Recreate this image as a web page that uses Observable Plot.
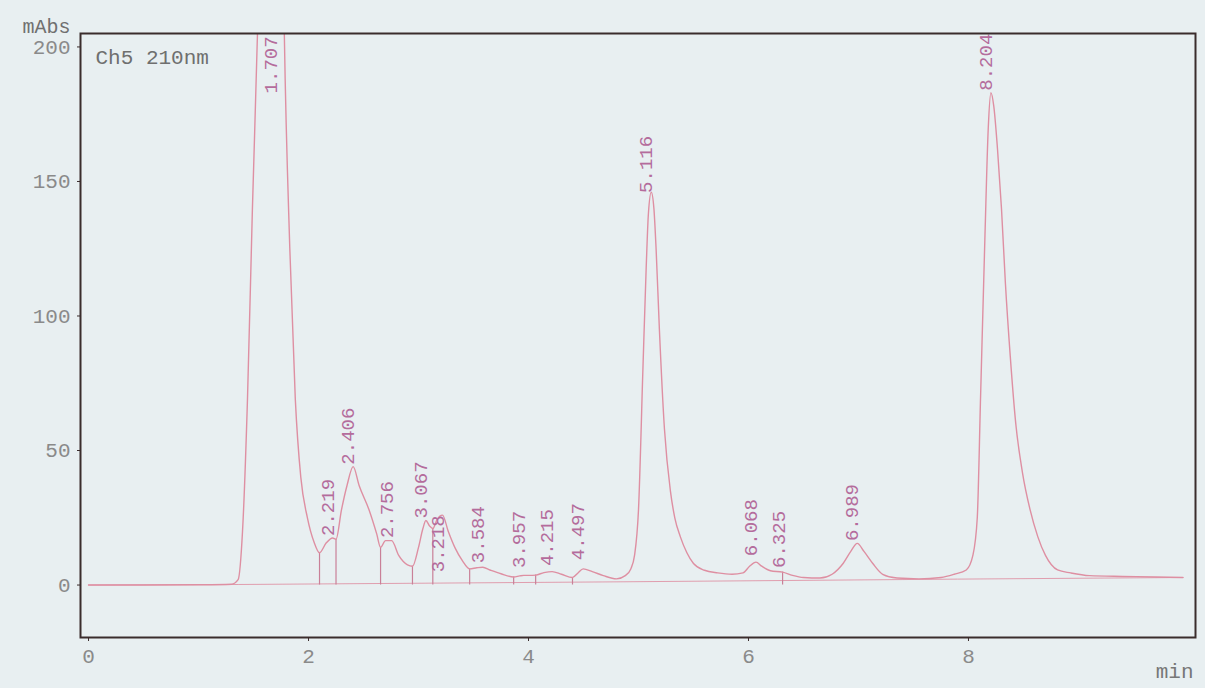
<!DOCTYPE html>
<html>
<head>
<meta charset="utf-8">
<script src="https://cdn.jsdelivr.net/npm/d3@7"></script>
<script src="https://cdn.jsdelivr.net/npm/@observablehq/plot@0.6"></script>
<style>
  html, body { margin: 0; padding: 0; background: #e8eff1; }
  #chart { width: 1205px; height: 688px; }
</style>
</head>
<body>
<div id="chart"></div>
<script>
// Chromatogram trace (retention time in min, absorbance in mAbs)
const traceTime = [0, 0.5, 1.0, 1.30, 1.36, 1.40, 1.445, 1.49, 1.536, 1.60, 1.707, 1.74, 1.78, 1.83, 1.88, 1.93, 1.99, 2.05, 2.10, 2.16, 2.219, 2.25, 2.30, 2.35, 2.406, 2.46, 2.55, 2.62, 2.655, 2.70, 2.756, 2.82, 2.90, 2.945, 3.00, 3.04, 3.067, 3.10, 3.13, 3.17, 3.218, 3.27, 3.33, 3.40, 3.465, 3.53, 3.584, 3.65, 3.75, 3.865, 3.92, 3.957, 4.01, 4.065, 4.14, 4.215, 4.30, 4.40, 4.45, 4.497, 4.58, 4.68, 4.80, 4.88, 4.93, 4.964, 5.00, 5.04, 5.07, 5.09, 5.116, 5.14, 5.16, 5.19, 5.236, 5.29, 5.33, 5.38, 5.44, 5.50, 5.60, 5.72, 5.85, 5.95, 6.01, 6.068, 6.12, 6.20, 6.31, 6.40, 6.50, 6.65, 6.76, 6.86, 6.93, 6.989, 7.05, 7.13, 7.22, 7.35, 7.55, 7.75, 7.87, 7.98, 8.04, 8.08, 8.11, 8.15, 8.18, 8.204, 8.23, 8.264, 8.30, 8.336, 8.38, 8.43, 8.49, 8.56, 8.63, 8.70, 8.81, 8.93, 9.10, 9.40, 9.70, 9.95];
const traceAbs  = [0, 0, 0.1, 0.3, 2, 20, 69, 140, 205, 330, 420, 330, 205, 125, 69, 40, 25, 16, 12, 15.6, 17.5, 17, 28, 37, 44, 37, 28, 19, 14, 16.5, 16.5, 11, 7.5, 7, 14, 21, 24, 22, 21, 24.5, 26, 20, 14, 9, 6, 6.4, 6.6, 5.6, 4.2, 3, 3.4, 3.6, 3.6, 3.7, 4.6, 5, 4, 2.8, 4.5, 6, 5, 3.5, 2.3, 3.5, 6, 11, 28, 80, 118, 138, 146, 140, 125, 95, 58, 35, 25, 18, 12, 8, 5.5, 4.5, 4, 4.5, 7, 8.5, 7, 5.3, 4.8, 3.6, 2.8, 2.6, 4, 8, 12.5, 15.5, 12.5, 8, 4, 2.6, 2.3, 2.8, 4, 5.6, 11, 25, 70, 130, 170, 183, 178, 162, 140, 112, 85, 60, 42, 28, 18, 11, 5.6, 4.5, 3.5, 3.2, 3, 2.8];

// Integration baseline
const baseTime = [0, 1.36, 4.85, 7.9, 9.95];
const baseAbs  = [0, 0.2, 1.2, 2.2, 2.8];

// Peak retention times, their labels and the height where each label starts
const peakTimes  = [1.707, 2.219, 2.406, 2.756, 3.067, 3.218, 3.584, 3.957, 4.215, 4.497, 5.116, 6.068, 6.325, 6.989, 8.204];
const peakLabels = ["1.707", "2.219", "2.406", "2.756", "3.067", "3.218", "3.584", "3.957", "4.215", "4.497", "5.116", "6.068", "6.325", "6.989", "8.204"];
const labelBase  = [182, 17.5, 44, 16.7, 24, 4, 7.4, 5.6, 6.3, 8.5, 145, 10, 5.6, 15.6, 183];

// Peak boundary drop lines
const dropTimes = [2.10, 2.25, 2.655, 2.945, 3.13, 3.465, 3.865, 4.065, 4.40, 6.31];
const dropAbs   = [12, 17, 14, 7, 21, 6, 3, 3.7, 2.8, 4.8];

const xTicks = [0, 2, 4, 6, 8];
const yTicks = [0, 50, 100, 150, 200];

const trace = traceTime.map((t, i) => ({t, v: traceAbs[i]}));
const baseline = baseTime.map((t, i) => ({t, v: baseAbs[i]}));
const peaks = peakTimes.map((t, i) => ({t, label: peakLabels[i], v: labelBase[i]}));
const drops = dropTimes.map((t, i) => ({t, v: dropAbs[i]}));

const traceColor = "#de8fa2";
const labelColor = "#b46c9c";
const frameColor = "#3a2c2c";
const font = "'Liberation Mono', 'DejaVu Sans Mono', monospace";

const chart = Plot.plot({
  width: 1205,
  height: 688,
  marginLeft: 80,
  marginTop: 33,
  marginRight: 10,
  marginBottom: 51,
  style: {background: "#e8eff1", fontFamily: font, fontSize: "21px", overflow: "visible"},
  x: {domain: [-0.073, 10.064]},
  y: {domain: [-19.5, 205]},
  marks: [
    Plot.line(baseline, {x: "t", y: "v", stroke: traceColor, strokeWidth: 1, strokeOpacity: 0.85}),
    Plot.ruleX(drops, {x: "t", y1: 0, y2: "v", stroke: "#c98098", strokeWidth: 1.2}),
    Plot.line(trace, {x: "t", y: "v", stroke: traceColor, strokeWidth: 1.4, curve: "monotone-x", clip: true}),
    Plot.text(peaks, {x: "t", y: "v", text: "label", rotate: -90, textAnchor: "start", dx: -5, dy: -2,
      fill: labelColor, fontSize: 19, fontFamily: font}),
    Plot.frame({stroke: frameColor, strokeWidth: 2}),
    Plot.axisX({ticks: xTicks, tickSize: 4, tickPadding: 7, stroke: frameColor, fill: "#8a8a8a", label: null, fontSize: 21}),
    Plot.axisY({ticks: yTicks, tickSize: 3, tickPadding: 7, stroke: frameColor, fill: "#8a8a8a", label: null, fontSize: 21}),
    Plot.text(["Ch5 210nm"], {frameAnchor: "top-left", dx: 15, dy: 16, textAnchor: "start", fill: "#6f6f6f", fontSize: 21, fontFamily: font}),
    Plot.text(["mAbs"], {frameAnchor: "top-left", dx: -58, dy: -15, textAnchor: "start", fill: "#707070", fontSize: 20, fontFamily: font}),
    Plot.text(["min"], {frameAnchor: "bottom-right", dx: -2, dy: 40, textAnchor: "end", fill: "#777777", fontSize: 21, fontFamily: font})
  ]
});
document.getElementById("chart").appendChild(chart);
</script>
</body>
</html>
